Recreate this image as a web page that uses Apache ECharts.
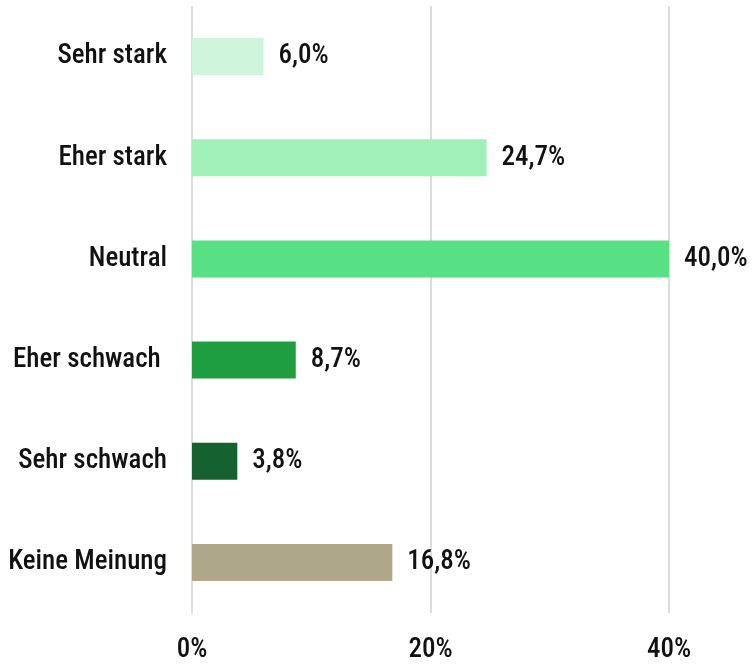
<!DOCTYPE html>
<html>
<head>
<meta charset="utf-8">
<script src="https://cdn.jsdelivr.net/npm/echarts@6/dist/echarts.min.js"></script>
<style>html,body{margin:0;padding:0;background:#fff}#c{width:753px;height:664px}</style>
</head>
<body>
<div id="c"></div>
<script>
var categories = ['Sehr stark', 'Eher stark', 'Neutral', 'Eher schwach ', 'Sehr schwach', 'Keine Meinung'];
var values = [6.0, 24.7, 40.0, 8.7, 3.8, 16.8];
var tickValues = [0, 20, 40];

var barColors = ['#cff5dc', '#a1efb9', '#58e084', '#1e9e40', '#166130', '#aea78a'];
var FONT = "'Roboto Condensed', 'Liberation Sans Narrow', 'Arial Narrow', 'Liberation Sans', sans-serif";
var WEIGHT = 500;

var chart = echarts.init(document.getElementById('c'), null, {renderer: 'canvas'});
chart.setOption({
  animation: false,
  backgroundColor: '#ffffff',
  grid: {left: 192, right: 84, top: 6, bottom: 47, containLabel: false},
  xAxis: {
    type: 'value', min: tickValues[0], max: tickValues[tickValues.length - 1], interval: 20,
    axisLine: {show: false}, axisTick: {show: false},
    splitLine: {show: true, lineStyle: {color: '#dcdcdc', width: 2}},
    axisLabel: {formatter: '{value}%', color: '#111', fontFamily: FONT, fontWeight: WEIGHT, fontSize: 27, margin: 24}
  },
  yAxis: {
    type: 'category', data: categories, inverse: true,
    axisLine: {show: false}, axisTick: {show: false},
    axisLabel: {color: '#111', fontFamily: FONT, fontWeight: WEIGHT, fontSize: 27, margin: 25}
  },
  series: [{
    type: 'bar',
    barWidth: 37,
    data: values.map(function (v, i) { return {value: v, itemStyle: {color: barColors[i]}}; }),
    label: {
      show: true, position: 'right', distance: 15,
      color: '#111', fontFamily: FONT, fontWeight: WEIGHT, fontSize: 27,
      formatter: function (p) { return p.value.toFixed(1).replace('.', ',') + '%'; }
    }
  }]
});
</script>
</body>
</html>
